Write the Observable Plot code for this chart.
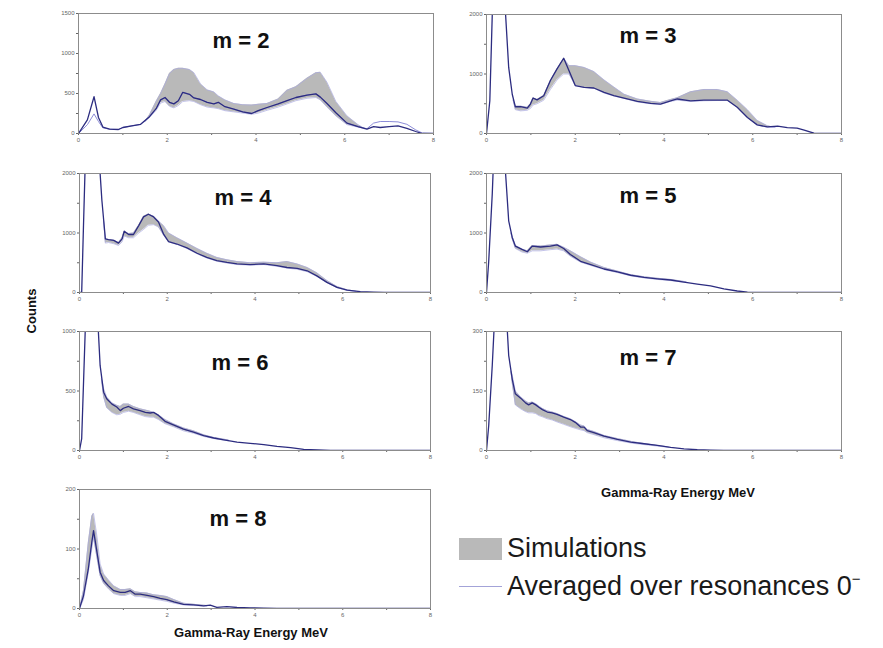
<!DOCTYPE html>
<html><head><meta charset="utf-8">
<script src="https://cdn.jsdelivr.net/npm/d3@7"></script>
<script src="https://cdn.jsdelivr.net/npm/@observablehq/plot@0.6"></script>
<style>
body{margin:0;background:#fff;font-family:"Liberation Sans",Arial,sans-serif;}
#wrap{position:relative;width:883px;height:648px;overflow:hidden;background:#fff;}
.panel{position:absolute;}
.lab{position:absolute;font-weight:bold;font-size:13px;color:#111;white-space:nowrap;line-height:14px;}
.leg{position:absolute;font-size:27px;color:#1a1a1a;white-space:nowrap;line-height:28px;}
</style></head>
<body><div id="wrap"></div>
<script>
// ---------- data ----------
const xTicks = [0,1,2,3,4,5,6,7,8];

// m = 2
const m2Energy = [0,0.2,0.35,0.45,0.55,0.7,0.9,1.0,1.2,1.4,1.6,1.75,1.85,1.95,2.05,2.15,2.25,2.35,2.5,2.6,2.75,2.9,3.05,3.15,3.3,3.5,3.7,3.9,4.05,4.25,4.5,4.7,4.9,5.15,5.35,5.45,5.6,5.8,6.05,6.3,6.5,6.65,6.8,7.0,7.2,7.4,7.6,7.75,8];
const m2Avg = [0,170,460,200,80,55,50,75,95,115,210,310,420,450,390,370,410,515,490,445,425,390,370,390,335,305,270,250,285,325,370,410,450,480,495,455,375,260,130,85,55,85,75,85,95,65,25,0,0];
const m2Alt = [0,110,245,150,70,55,50,75,95,115,210,310,420,450,390,370,410,515,490,445,425,390,370,390,335,305,270,250,285,325,370,410,450,480,495,455,375,260,130,85,60,130,150,150,145,115,45,5,0];
const m2BandE = [1.5,1.6,1.75,1.85,1.95,2.05,2.15,2.25,2.35,2.5,2.6,2.75,2.9,3.05,3.15,3.3,3.5,3.7,3.9,4.05,4.25,4.5,4.7,4.9,5.15,5.35,5.45,5.6,5.8,6.05,6.3,6.45];
const m2Lo = [150,200,290,380,400,340,320,350,400,410,400,360,330,320,310,285,270,255,240,255,290,330,370,410,440,450,420,330,220,110,80,60];
const m2Hi = [150,230,400,500,620,750,800,815,815,800,760,620,545,520,470,420,375,360,355,365,375,430,540,585,690,760,765,640,400,220,110,60];

// m = 3
const m3Energy = [0,0.075,0.13,0.25,0.43,0.5,0.58,0.65,0.77,0.92,0.99,1.05,1.14,1.29,1.44,1.59,1.74,1.86,2.0,2.2,2.42,2.65,2.87,3.1,3.4,3.7,3.92,4.15,4.3,4.6,4.9,5.2,5.43,5.65,5.88,6.1,6.33,6.56,6.78,7.0,7.16,7.38,7.5,8];
const m3Avg = [0,550,2000,4000,2000,1110,660,450,450,425,495,595,565,635,890,1085,1265,1055,805,775,765,690,635,595,540,505,495,550,580,550,560,560,560,440,270,145,110,125,100,90,55,5,0,0];
const m3BandE = [0.6,0.65,0.77,0.92,0.99,1.05,1.14,1.29,1.44,1.59,1.74,1.86,2.0,2.2,2.42,2.65,2.87,3.1,3.4,3.7,3.92,4.15,4.3,4.6,4.9,5.2,5.43,5.65,5.88,6.1,6.33,6.5];
const m3Lo = [560,400,380,390,420,480,500,560,740,900,1000,1000,805,775,760,680,630,590,530,500,490,540,560,540,550,555,555,440,270,145,105,100];
const m3Hi = [560,460,460,440,500,600,570,640,890,1085,1265,1140,1140,1110,1040,900,780,660,580,540,520,570,600,700,740,740,700,560,400,220,130,100];

// m = 4
const m4Energy = [0,0.05,0.09,0.2,0.47,0.51,0.59,0.66,0.78,0.89,0.97,1.02,1.12,1.23,1.35,1.46,1.57,1.69,1.8,1.92,2.03,2.22,2.45,2.68,2.9,3.13,3.36,3.59,3.89,4.2,4.5,4.73,4.96,5.19,5.41,5.64,5.87,6.1,6.4,6.7,6.94,8];
const m4Avg = [0,0,1100,4000,2000,1550,900,890,875,830,900,1030,975,975,1125,1270,1315,1270,1185,975,855,815,750,660,590,535,505,480,470,480,450,420,405,365,280,170,85,40,15,5,0,0];
const m4BandE = [0.55,0.59,0.66,0.78,0.89,0.97,1.02,1.12,1.23,1.35,1.46,1.57,1.69,1.8,1.92,2.03,2.22,2.45,2.68,2.9,3.13,3.36,3.59,3.89,4.2,4.5,4.73,4.96,5.19,5.41,5.64,5.87,6.1,6.3];
const m4Lo = [1200,830,840,820,790,850,950,920,920,1000,1060,1130,1140,1100,960,850,810,740,650,580,525,495,470,460,470,440,410,390,350,270,165,80,35,20];
const m4Hi = [1200,900,890,880,840,920,1030,990,1000,1130,1280,1320,1280,1200,1120,1000,920,830,740,660,590,550,520,500,510,500,520,480,420,330,200,100,45,20];

// m = 5
const m5Energy = [0,0.05,0.13,0.25,0.43,0.5,0.58,0.65,0.8,0.92,1.03,1.22,1.44,1.59,1.74,1.89,2.12,2.35,2.65,2.95,3.25,3.55,3.85,4.15,4.45,4.75,5.05,5.35,5.65,5.88,6.1,8];
const m5Avg = [0,525,1660,4000,2000,1205,925,780,725,685,780,765,780,800,740,640,525,470,395,345,290,255,230,210,175,140,110,60,25,5,0,0];
const m5BandE = [0.55,0.58,0.65,0.8,0.92,1.03,1.22,1.44,1.59,1.74,1.89,2.12,2.35,2.65,2.95,3.25,3.55,3.85,4.15,4.5];
const m5Lo = [1000,900,740,680,660,700,700,720,730,700,610,510,455,385,335,280,245,220,200,170];
const m5Hi = [1000,940,790,730,700,790,780,800,810,760,700,600,510,420,360,300,265,240,220,180];

// m = 6
const m6Energy = [0,0.05,0.13,0.25,0.43,0.47,0.55,0.62,0.74,0.85,0.93,1.0,1.12,1.23,1.38,1.5,1.61,1.69,1.8,1.95,2.14,2.37,2.6,2.83,3.06,3.29,3.59,3.89,4.2,4.5,4.81,5.11,5.42,5.72,8];
const m6Avg = [0,100,1000,2000,1000,715,490,435,390,365,335,355,370,350,335,320,315,320,295,245,215,180,155,125,105,90,70,60,50,35,25,10,5,0,0];
const m6BandE = [0.5,0.55,0.62,0.74,0.85,0.93,1.0,1.12,1.23,1.38,1.5,1.61,1.69,1.8,1.95,2.14,2.37,2.6,2.83,3.06,3.4];
const m6Lo = [600,450,360,320,300,305,320,330,320,300,285,280,280,260,225,200,165,145,118,100,82];
const m6Hi = [600,520,450,400,380,370,390,390,370,350,340,330,320,300,260,225,190,165,132,110,88];

// m = 7
const m7Energy = [0,0.05,0.13,0.3,0.47,0.5,0.58,0.65,0.77,0.88,0.95,1.03,1.11,1.18,1.26,1.37,1.48,1.59,1.74,1.89,2.0,2.12,2.2,2.27,2.42,2.65,2.95,3.25,3.55,3.85,4.15,4.45,4.75,5.05,5.35,8];
const m7Avg = [0,63,215,600,300,240,180,143,132,120,115,120,115,109,103,97,95,91,84,78,71,59,59,50,45,36,28,21,17,13,8,4,2,1,0,0];
const m7BandE = [0.55,0.58,0.65,0.77,0.88,0.95,1.03,1.11,1.18,1.26,1.37,1.48,1.59,1.74,1.89,2.0,2.12,2.2,2.27,2.42,2.65,2.95,3.3,3.7,4.1];
const m7Lo = [200,170,115,105,98,95,95,93,88,85,80,77,72,66,60,56,52,50,45,40,32,25,18,13,8];
const m7Hi = [200,190,150,135,125,120,122,118,112,106,100,97,93,86,80,73,64,62,53,48,38,30,22,15,9];

// m = 8
const m8Energy = [0,0.09,0.2,0.28,0.32,0.4,0.47,0.55,0.66,0.78,0.93,1.04,1.16,1.27,1.38,1.54,1.69,1.84,1.99,2.15,2.37,2.6,2.83,2.98,3.13,3.36,3.59,3.89,4.2,4.5,8];
const m8Avg = [0,21,66,111,131,94,61,47,38,30,27,27,30,24,24,22,20,17,15,11,7,6,4.5,5.6,2,3,1.7,1.1,0.6,0,0];
const m8BandE = [0,0.09,0.2,0.28,0.32,0.4,0.47,0.55,0.66,0.78,0.93,1.04,1.16,1.27,1.38,1.54,1.69,1.84,1.99,2.15,2.37,2.6,2.9];
const m8Lo = [0,15,60,100,120,85,55,42,33,25,22,22,25,20,20,18,16,14,12,9,6,5,4];
const m8Hi = [0,30,110,155,160,120,75,58,48,38,32,32,33,28,27,26,23,22,20,15,9,7,5];

const titles = ["m = 2","m = 3","m = 4","m = 5","m = 6","m = 7","m = 8"];
const yMax   = [1500,2000,2000,2000,1000,300,200];
const yStep  = [250,500,500,500,250,75,50];
const yLabel = [500,1000,1000,1000,500,150,100];

// ---------- layout ----------
const layout = [
  {left:78,  top:13,  w:355, h:120, tdx:-15, tdy:27},
  {left:486, top:14,  w:355, h:119, tdx:-16, tdy:21},
  {left:79,  top:173, w:351, h:119, tdx:-12, tdy:24},
  {left:486, top:173, w:355, h:119, tdx:-16, tdy:22},
  {left:79,  top:331, w:351, h:119, tdx:-15, tdy:31},
  {left:486, top:331, w:355, h:119, tdx:-16, tdy:26},
  {left:79,  top:489, w:351, h:119, tdx:-17, tdy:29}
];
const series = [
  {e:m2Energy, avg:m2Avg, alt:m2Alt, be:m2BandE, lo:m2Lo, hi:m2Hi},
  {e:m3Energy, avg:m3Avg, be:m3BandE, lo:m3Lo, hi:m3Hi},
  {e:m4Energy, avg:m4Avg, be:m4BandE, lo:m4Lo, hi:m4Hi},
  {e:m5Energy, avg:m5Avg, be:m5BandE, lo:m5Lo, hi:m5Hi},
  {e:m6Energy, avg:m6Avg, be:m6BandE, lo:m6Lo, hi:m6Hi},
  {e:m7Energy, avg:m7Avg, be:m7BandE, lo:m7Lo, hi:m7Hi},
  {e:m8Energy, avg:m8Avg, be:m8BandE, lo:m8Lo, hi:m8Hi}
];

const wrap = document.getElementById("wrap");
const ML = 30, MR = 4, MT = 4, MB = 14;

series.forEach((s, k) => {
  const L = layout[k];
  const line = s.e.map((e, i) => ({e, v: s.avg[i]}));
  const band = s.be.map((e, i) => ({e, lo: s.lo[i], hi: s.hi[i]}));
  const marks = [
    Plot.areaY(band, {x: "e", y1: "lo", y2: "hi", fill: "#b9b9b9", clip: true}),
    Plot.line(band, {x: "e", y: "lo", stroke: "#aaaadf", strokeWidth: 0.7, clip: true}),
    Plot.line(band, {x: "e", y: "hi", stroke: "#aaaadf", strokeWidth: 0.7, clip: true})
  ];
  if (s.alt) {
    marks.push(Plot.line(s.e.map((e, i) => ({e, v: s.alt[i]})),
      {x: "e", y: "v", stroke: "#8c8cd8", strokeWidth: 1, clip: true}));
  }
  marks.push(Plot.line(line, {x: "e", y: "v", stroke: "#2c2c80", strokeWidth: 1.3, clip: true}));
  marks.push(Plot.frame({stroke: "#8c8c8c", strokeWidth: 1}));
  marks.push(Plot.text([titles[k]], {
    frameAnchor: "top", dx: L.tdx, dy: L.tdy, text: d => d,
    fontSize: 22, fontWeight: "bold", fill: "#111", lineAnchor: "middle"
  }));
  const yt = d3.range(0, yMax[k] + 1, yStep[k]);
  const chart = Plot.plot({
    width: L.w + ML + MR, height: L.h + MT + MB,
    marginLeft: ML, marginRight: MR, marginTop: MT, marginBottom: MB,
    style: {fontSize: "6px", color: "#666", background: "transparent", fontFamily: "Liberation Sans, Arial, sans-serif"},
    x: {domain: [0, 8], ticks: xTicks, tickSize: 2, tickPadding: 2, label: null,
        tickFormat: d => d % 2 === 0 ? String(d) : ""},
    y: {domain: [0, yMax[k]], ticks: yt, tickSize: 2, tickPadding: 2, label: null,
        tickFormat: d => d % yLabel[k] === 0 ? String(d) : ""},
    marks
  });
  chart.classList.add("panel");
  chart.style.left = (L.left - ML) + "px";
  chart.style.top = (L.top - MT) + "px";
  wrap.appendChild(chart);
});

function addDiv(cls, html, css) {
  const d = document.createElement("div");
  d.className = cls; d.innerHTML = html;
  Object.assign(d.style, css);
  wrap.appendChild(d);
  return d;
}
// axis titles
addDiv("lab", "Counts", {left: "32px", top: "311px", transform: "translate(-50%,-50%) rotate(-90deg)"});
addDiv("lab", "Gamma-Ray Energy MeV", {left: "678px", top: "493px", transform: "translate(-50%,-50%)"});
addDiv("lab", "Gamma-Ray Energy MeV", {left: "251px", top: "633px", transform: "translate(-50%,-50%)"});
// legend
addDiv("", "", {position: "absolute", left: "459px", top: "538px", width: "43px", height: "22px", background: "#b9b9b9"});
addDiv("", "", {position: "absolute", left: "459px", top: "586px", width: "43px", height: "0", borderTop: "1.5px solid #a3a3d8"});
addDiv("leg", "Simulations", {left: "507px", top: "534px"});
addDiv("leg", "Averaged over resonances 0<span style=\"font-size:15px;position:relative;top:-11px\">&#8722;</span>", {left: "507px", top: "572px"});
</script>
</body></html>
